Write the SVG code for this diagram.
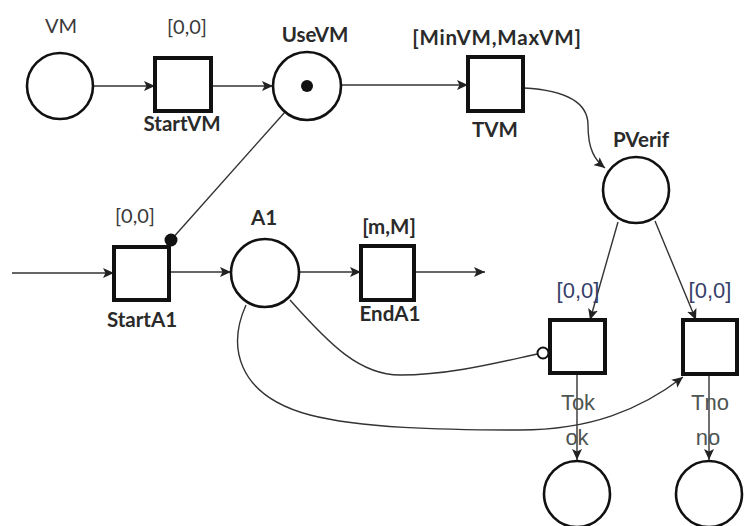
<svg xmlns="http://www.w3.org/2000/svg" width="745" height="526" viewBox="0 0 745 526">
<style>
.place{fill:#fff;stroke:#111;stroke-width:2.6}
.trans{fill:#fff;stroke:#111;stroke-width:4}
.arc{fill:none;stroke:#333;stroke-width:1.4}
.lb{font-family:Lato,"Liberation Sans",sans-serif;font-weight:bold;font-size:20.5px;fill:#2a2a2a;text-anchor:middle}
.lr{font-family:Lato,"Liberation Sans",sans-serif;font-size:20px;fill:#3a3a3a;text-anchor:middle}
.la{font-family:"Liberation Sans",Arial,sans-serif;font-size:22px;fill:#4e5552;text-anchor:middle}
.lblue{fill:#36416a}
</style>
<defs>
<marker id="ah" markerUnits="userSpaceOnUse" markerWidth="12" markerHeight="10" refX="11" refY="5" orient="auto">
<path d="M0,0 L11,5 L0,10 L2.5,5 Z" fill="#222"/>
</marker>
</defs>
<rect width="745" height="526" fill="#fff"/>
<g id="connectors">
<path class="arc" d="M93,86 L155,86" marker-end="url(#ah)"/>
<path class="arc" d="M211,86 L273,86" marker-end="url(#ah)"/>
<path class="arc" d="M341,85 L468,85" marker-end="url(#ah)"/>
<path class="arc" d="M524,88 C560,90 588,100 588,125 C588,150 595,160 605,168" marker-end="url(#ah)"/>
<path class="arc" d="M618,222 L590,320" marker-end="url(#ah)"/>
<path class="arc" d="M655,221 L696,320" marker-end="url(#ah)"/>
<path class="arc" d="M577,373 L577,460" marker-end="url(#ah)"/>
<path class="arc" d="M709,374 L709,460" marker-end="url(#ah)"/>
<path class="arc" d="M12,273 L114,273" marker-end="url(#ah)"/>
<path class="arc" d="M169,272 L231,272" marker-end="url(#ah)"/>
<path class="arc" d="M299,272 L361,272" marker-end="url(#ah)"/>
<path class="arc" d="M414,272 L485,272" marker-end="url(#ah)"/>
<path class="arc" d="M285,112 L171,240"/>
<circle cx="171" cy="240" r="6.5" fill="#111"/>
<path class="arc" d="M290,300 C330,345 360,375 400,375 C450,375 500,362 537,354"/>
<circle cx="543" cy="353" r="5.5" fill="#fff" stroke="#111" stroke-width="2"/>
<path class="arc" d="M246,305 C228,345 235,395 310,415 C360,428 440,430 520,430 C590,430 640,410 683,377" marker-end="url(#ah)"/>
</g>
<g id="VM">
<circle class="place" cx="60" cy="86" r="33"/>
<text class="lr" x="61" y="33" font-size="23">VM</text>
</g>
<g id="StartVM">
<rect class="trans" x="155" y="58" width="56" height="53"/>
<text class="lr" x="187" y="34">[0,0]</text>
<text class="lb" x="182" y="131">StartVM</text>
</g>
<g id="UseVM">
<circle class="place" cx="307" cy="86" r="34"/>
<circle cx="307" cy="86" r="6" fill="#111"/>
<text class="lb" x="315" y="42">UseVM</text>
</g>
<g id="TVM">
<rect class="trans" x="468" y="57" width="55" height="54"/>
<text class="lb" x="497" y="45" letter-spacing="0.8">[MinVM,MaxVM]</text>
<text class="lb" x="495" y="137">TVM</text>
</g>
<g id="PVerif">
<circle class="place" cx="636" cy="190" r="33"/>
<text class="lb" x="641" y="147">PVerif</text>
</g>
<g id="StartA1">
<rect class="trans" x="114" y="247" width="55" height="53"/>
<text class="lr" x="135" y="223">[0,0]</text>
<text class="lb" x="142" y="327">StartA1</text>
</g>
<g id="A1">
<circle class="place" cx="265" cy="273" r="34"/>
<text class="lb" x="264" y="225">A1</text>
</g>
<g id="EndA1">
<rect class="trans" x="361" y="246" width="53" height="54"/>
<text class="lb" x="389" y="234">[m,M]</text>
<text class="lb" x="390" y="321">EndA1</text>
</g>
<g id="Tok">
<rect class="trans" x="550" y="320" width="55" height="53"/>
<text class="la lblue" x="578" y="298">[0,0]</text>
<text class="la" x="578" y="410">Tok</text>
<text class="la" x="577" y="445">ok</text>
</g>
<g id="Tno">
<rect class="trans" x="683" y="320" width="54" height="54"/>
<text class="la lblue" x="710" y="298">[0,0]</text>
<text class="la" x="710" y="410">Tno</text>
<text class="la" x="708" y="445">no</text>
</g>
<g id="ok">
<circle class="place" cx="577" cy="494" r="33"/>
</g>
<g id="no">
<circle class="place" cx="709" cy="494" r="33"/>
</g>
</svg>
